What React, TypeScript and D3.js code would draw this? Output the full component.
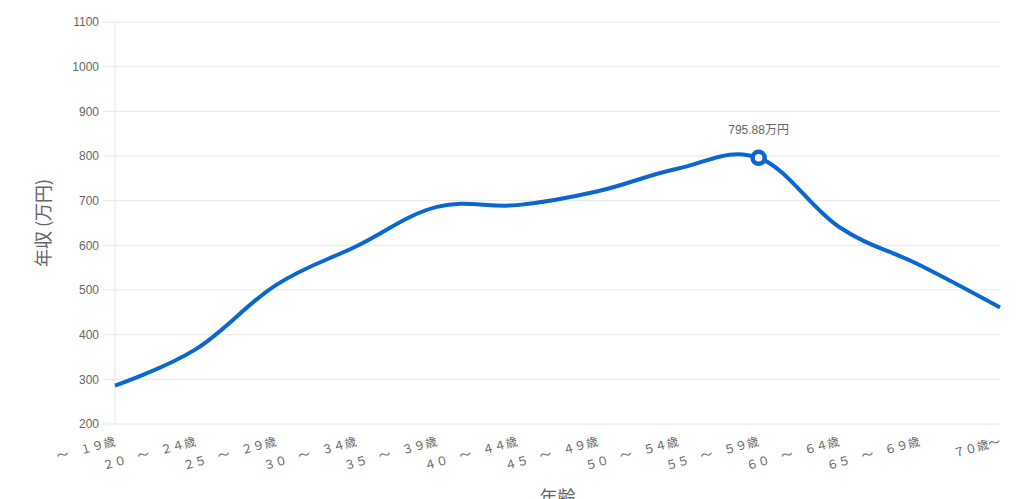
import React from "react";
import * as d3 from "d3";

const categories = [
  "～　１９歳",
  "２０　～　２４歳",
  "２５　～　２９歳",
  "３０　～　３４歳",
  "３５　～　３９歳",
  "４０　～　４４歳",
  "４５　～　４９歳",
  "５０　～　５４歳",
  "５５　～　５９歳",
  "６０　～　６４歳",
  "６５　～　６９歳",
  "７０歳～",
];
const incomes = [286, 367, 511, 598, 686, 690, 721, 772, 795.88, 641, 556, 461];
const yTicks = [200, 300, 400, 500, 600, 700, 800, 900, 1000, 1100];
const highlightIndex = 8;
const highlightLabel = "795.88万円";

const W = 1024;
const H = 499;
const left = 115;
const right = 1000;
const top = 22;
const bottom = 424;

const LATIN = "'Liberation Sans', Arial, 'Noto Sans CJK JP', sans-serif";
const CJK = "'Noto Sans CJK JP', 'Liberation Sans', sans-serif";
const BLUE = "#0a67cf";
const GRID = "#e6e6e6";
const TEXT = "#666";

export default function App() {
  const x = d3.scalePoint<string>().domain(categories).range([left, right]);
  const y = d3.scaleLinear().domain([200, 1100]).range([bottom, top]);

  const line = d3
    .line<number>()
    .x((_, i) => x(categories[i]) as number)
    .y((d) => y(d))
    .curve(d3.curveCardinal.tension(-0.1));

  const hx = x(categories[highlightIndex]) as number;
  const hy = y(incomes[highlightIndex]);

  return (
    <svg
      width={W}
      height={H}
      style={{ position: "absolute", left: 0, top: 0, background: "#fff" }}
    >
      {yTicks.map((t) => (
        <g key={t}>
          <line x1={103} x2={right} y1={y(t)} y2={y(t)} stroke={GRID} strokeWidth={1} />
          <text
            x={99}
            y={y(t)}
            dy="0.35em"
            textAnchor="end"
            fontFamily={LATIN}
            fontSize={12}
            fill={TEXT}
          >
            {t}
          </text>
        </g>
      ))}
      <line x1={left} x2={left} y1={top} y2={bottom} stroke={GRID} strokeWidth={1} />

      {categories.map((c) => (
        <text
          key={c}
          transform={`translate(${x(c)},441) rotate(-15)`}
          dy="0.35em"
          textAnchor="end"
          fontFamily={CJK}
          fontSize={12}
          fill={TEXT}
        >
          {c}
        </text>
      ))}

      <path d={line(incomes) || ""} fill="none" stroke={BLUE} strokeWidth={4} strokeLinecap="butt" />
      <circle cx={hx} cy={hy} r={6} fill="#fff" stroke={BLUE} strokeWidth={4.5} />
      <text
        x={hx}
        y={hy - 24}
        textAnchor="middle"
        fontFamily={LATIN}
        fontSize={12}
        fill={TEXT}
      >
        {highlightLabel}
      </text>

      <text
        transform={`translate(50,${(top + bottom) / 2}) rotate(-90)`}
        textAnchor="middle"
        fontFamily={CJK}
        fontSize={18}
        fill={TEXT}
      >
        年収 (万円)
      </text>
      <text
        x={(left + right) / 2}
        y={504}
        textAnchor="middle"
        fontFamily={CJK}
        fontSize={18}
        fill={TEXT}
      >
        年齢
      </text>
    </svg>
  );
}
